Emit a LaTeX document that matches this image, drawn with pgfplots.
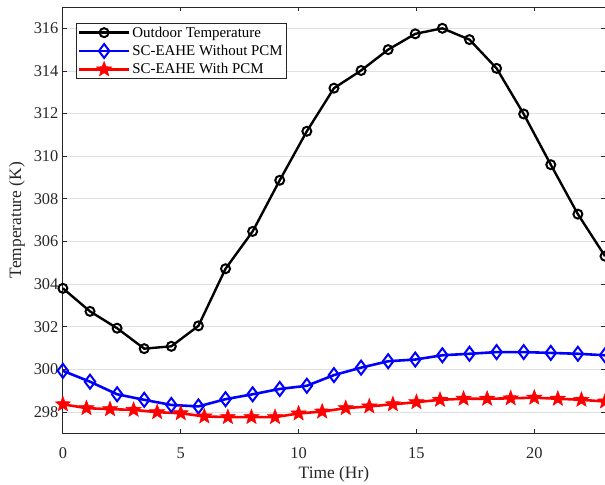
\documentclass[border=0pt]{standalone}
\usepackage{pgfplots}
\pgfplotsset{compat=1.18}
\usepackage{fontspec}
\setmainfont{Liberation Serif}
\usetikzlibrary{calc}

% filled five-point star, like MATLAB's 'p' marker
\pgfdeclareplotmark{fstar}{%
  \pgfpathmoveto{\pgfqpointpolar{90}{\pgfplotmarksize}}%
  \pgfpathlineto{\pgfqpointpolar{126}{0.42\pgfplotmarksize}}%
  \pgfpathlineto{\pgfqpointpolar{162}{\pgfplotmarksize}}%
  \pgfpathlineto{\pgfqpointpolar{198}{0.42\pgfplotmarksize}}%
  \pgfpathlineto{\pgfqpointpolar{234}{\pgfplotmarksize}}%
  \pgfpathlineto{\pgfqpointpolar{270}{0.42\pgfplotmarksize}}%
  \pgfpathlineto{\pgfqpointpolar{306}{\pgfplotmarksize}}%
  \pgfpathlineto{\pgfqpointpolar{342}{0.42\pgfplotmarksize}}%
  \pgfpathlineto{\pgfqpointpolar{18}{\pgfplotmarksize}}%
  \pgfpathlineto{\pgfqpointpolar{54}{0.42\pgfplotmarksize}}%
  \pgfpathclose
  \pgfusepathqfillstroke}

\definecolor{axgray}{RGB}{38,38,38}
\definecolor{gridgray}{RGB}{225,225,225}

\begin{document}
\begin{tikzpicture}
\begin{axis}[
    scale only axis,
    width=543bp, height=427bp,
    xmin=0, xmax=23,
    ymin=297, ymax=317,
    xtick={0,5,10,15,20},
    ytick={298,300,...,316},
    tick align=inside,
    major tick length=4.5bp,
    axis line style={axgray, line width=0.8bp},
    every tick/.style={axgray, line width=0.8bp},
    ymajorgrids,
    grid style={gridgray, line width=0.8bp},
    /pgf/number format/assume math mode=true,
    ticklabel style={font=\fontsize{16.5}{19}\selectfont, text=axgray},
    xticklabel style={anchor=center, yshift=-20bp},
    yticklabel style={xshift=-1bp},
    xlabel={Time (Hr)},
    ylabel={Temperature (K)},
    every axis x label/.style={at={(axis description cs:0.5,0)}, anchor=center, yshift=-41bp,
        font=\fontsize{17.5}{20}\selectfont, text=axgray},
    every axis y label/.style={at={(axis description cs:0,0.5)}, rotate=90, anchor=center, yshift=46bp,
        font=\fontsize{17.5}{20}\selectfont, text=axgray},
    legend cell align=left,
    legend style={at={(0,1)}, anchor=north west, xshift=12.7bp, yshift=-16bp,
        draw=axgray, line width=0.6bp, inner xsep=2bp, inner ysep=1.5bp,
        row sep=2.5bp,
        font=\fontsize{15}{17}\selectfont,
        /tikz/every even column/.append style={column sep=3bp}},
    legend image code/.code={%
        \draw[mark repeat=2, mark phase=2] plot coordinates {(0bp,0bp) (25bp,0bp) (50bp,0bp)};},
    clip=false,
]
\addplot[black, line width=2.4bp, mark=o, mark size=4.5bp, mark options={line width=2bp}]
coordinates {
(0,303.80) (1.15,302.72) (2.30,301.93) (3.45,300.97) (4.60,301.08)
(5.75,302.04) (6.90,304.72) (8.05,306.47) (9.20,308.87) (10.35,311.17)
(11.50,313.19) (12.65,314.02) (13.80,315.00) (14.95,315.74) (16.10,316.00)
(17.25,315.47) (18.40,314.12) (19.55,311.98) (20.70,309.60) (21.85,307.28)
(23.00,305.31)
};
\addlegendentry{Outdoor Temperature}

\addplot[blue, line width=2.6bp, mark=diamond, mark size=7bp, mark options={line width=2bp}]
coordinates {
(0,299.93) (1.15,299.42) (2.30,298.83) (3.45,298.57) (4.60,298.33)
(5.75,298.26) (6.90,298.60) (8.05,298.83) (9.20,299.08) (10.35,299.23)
(11.50,299.73) (12.65,300.08) (13.80,300.38) (14.95,300.46) (16.10,300.66)
(17.25,300.73) (18.40,300.81) (19.55,300.81) (20.70,300.77) (21.85,300.73)
(23.00,300.66)
};
\addlegendentry{SC-EAHE Without PCM}

\addplot[red, line width=2.6bp, mark=fstar, mark size=8bp, mark options={fill=red, line width=0.5bp}]
coordinates {
(0,298.36) (1,298.18) (2,298.13) (3,298.10) (4,297.99) (5,297.94)
(6,297.79) (7,297.76) (8,297.76) (9,297.76) (10,297.93) (11,298.02)
(12,298.18) (13,298.26) (14,298.36) (15,298.46) (16,298.57) (17,298.62)
(18,298.62) (19,298.64) (20,298.67) (21,298.62) (22,298.57) (23,298.49)
};
\addlegendentry{SC-EAHE With PCM}
\end{axis}
\pgfresetboundingbox
\path[use as bounding box] ($(current axis.south west)+(-63bp,-51bp)$) rectangle ($(current axis.north east)+(0bp,7bp)$);
\end{tikzpicture}
\end{document}
